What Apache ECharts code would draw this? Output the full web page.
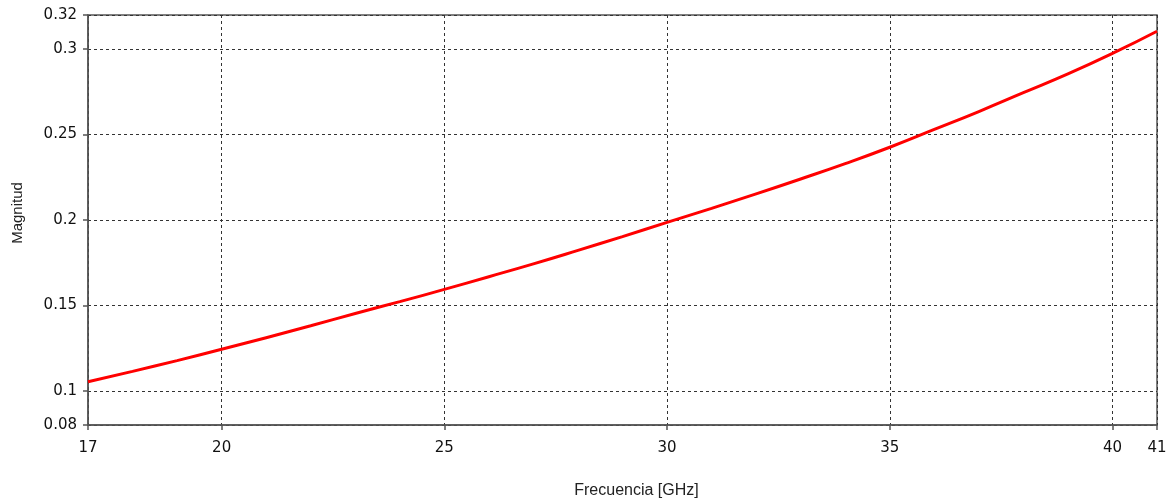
<!DOCTYPE html>
<html>
<head>
<meta charset="utf-8">
<script src="https://cdn.jsdelivr.net/npm/echarts@6/dist/echarts.min.js"></script>
<style>
html,body{margin:0;padding:0;background:#fff;}
#chart{width:1172px;height:499px;}
</style>
</head>
<body>
<div id="chart"></div>
<script>
const freqs = [17,18,19,20,21,22,23,24,25,26,27,28,29,30,31,32,33,34,35,36,37,38,39,40,41];
const mags  = [0.1053,0.1114,0.1177,0.1243,0.1311,0.1381,0.1453,0.1522,0.1594,0.1668,0.1743,0.1822,0.1903,0.1986,0.2068,0.2153,0.2240,0.2330,0.2426,0.2530,0.2635,0.2745,0.2855,0.2975,0.3105];
const xTicks = [17,20,25,30,35,40,41];
const yTicks = [0.08,0.1,0.15,0.2,0.25,0.3,0.32];
const xName = 'Frecuencia [GHz]';
const yName = 'Magnitud';

const chart = echarts.init(document.getElementById('chart'));
const tickFont = {fontFamily:'DejaVu Sans', fontSize:15, color:'#111'};
const gridLine = {show:true, lineStyle:{color:'#333', type:[3,3], width:1}};
chart.setOption({
  animation:false,
  grid:{left:88, right:15, top:15, bottom:74, outerBoundsMode:'none', containLabel:false,
        show:true, borderColor:'#555', borderWidth:1.5, backgroundColor:'#fff'},
  xAxis:{
    type:'value', min:17, max:41,
    name:xName, nameLocation:'middle', nameGap:58,
    nameTextStyle:{fontFamily:'Liberation Sans', fontSize:16, color:'#222', padding:[0,0,0,28]},
    axisLine:{show:true, lineStyle:{color:'#555', width:1.5}},
    axisTick:{show:true, length:5, customValues:xTicks, lineStyle:{color:'#555', width:1.5}},
    axisLabel:Object.assign({margin:16, customValues:xTicks}, tickFont),
    splitLine:gridLine
  },
  yAxis:{
    type:'value', min:0.08, max:0.32,
    name:yName, nameLocation:'middle', nameGap:63, nameRotate:90,
    nameTextStyle:{fontFamily:'Liberation Sans', fontSize:15, color:'#222', padding:[0,0,0,14]},
    axisLine:{show:true, lineStyle:{color:'#555', width:1.5}},
    axisTick:{show:true, length:5, customValues:yTicks, lineStyle:{color:'#555', width:1.5}},
    axisLabel:Object.assign({margin:11, customValues:yTicks}, tickFont),
    splitLine:gridLine
  },
  series:[{
    type:'line', smooth:true, showSymbol:false,
    data:freqs.map((f,i)=>[f,mags[i]]),
    lineStyle:{color:'#ff0000', width:3},
    z:5
  }]
});
</script>
</body>
</html>
